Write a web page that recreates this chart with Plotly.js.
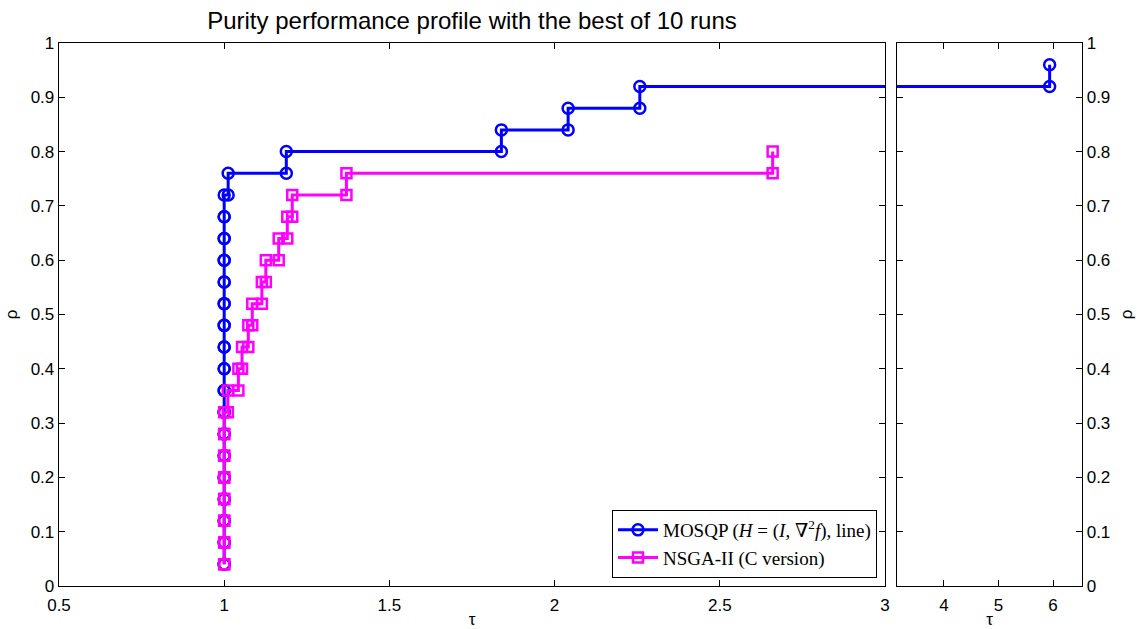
<!DOCTYPE html>
<html>
<head>
<meta charset="utf-8">
<script src="https://cdn.plot.ly/plotly-3.0.1.min.js"></script>
<style>html,body{margin:0;padding:0;background:#fff;}#chart{width:1140px;height:629px;}</style>
</head>
<body>
<div id="chart"></div>
<script>
// Number of problems (step of rho = 1/25)
const nProblems = 25;
// Sorted performance ratios tau for each solver (one per solved problem)
const mosqpTau = [1, 1, 1, 1, 1, 1, 1, 1, 1, 1, 1, 1, 1, 1, 1, 1, 1, 1,
                  1.012, 1.188, 1.839, 2.041, 2.258, 5.937];
const nsgaTau = [1, 1, 1, 1, 1, 1, 1, 1,
                 1.011, 1.043, 1.054, 1.073, 1.085, 1.114, 1.126, 1.165, 1.191, 1.206,
                 1.370, 2.660];
const seriesNames = ['MOSQP (<i>H</i> = (<i>I</i>, ∇<sup>2</sup><i>f</i>), line)', 'NSGA-II (C version)'];
const xTicksLeft = [0.5, 1, 1.5, 2, 2.5, 3];
const xTicksRight = [4, 5, 6];
const yTicks = [0, 0.1, 0.2, 0.3, 0.4, 0.5, 0.6, 0.7, 0.8, 0.9, 1];

function stairs(tau, n) {
  const xs = [tau[0]], ys = [1 / n];
  for (let i = 1; i < tau.length; i++) {
    xs.push(tau[i]); ys.push(i / n);
    xs.push(tau[i]); ys.push((i + 1) / n);
  }
  return {x: xs, y: ys};
}

const sA = stairs(mosqpTau, nProblems);
const sB = stairs(nsgaTau, nProblems);

const blue = '#0000ff', mag = '#ff00ff';
function tr(s, name, color, symbol, size, xa, ya, show) {
  return {
    x: s.x, y: s.y, name: name, type: 'scatter', mode: 'lines+markers',
    xaxis: xa, yaxis: ya, showlegend: show,
    line: {color: color, width: 3},
    marker: {symbol: symbol, size: size, color: color, line: {color: color, width: 2.5}},
    cliponaxis: true, hoverinfo: 'skip'
  };
}

const data = [
  tr(sA, seriesNames[0], blue, 'circle-open', 11, 'x', 'y', true),
  tr(sB, seriesNames[1], mag, 'square-open', 10, 'x', 'y', true),
  tr(sA, seriesNames[0], blue, 'circle-open', 11, 'x2', 'y2', false),
  tr(sB, seriesNames[1], mag, 'square-open', 10, 'x2', 'y2', false)
];

const sans = 'Liberation Sans, Arial, sans-serif';
const tickFont = {family: sans, size: 17, color: '#000'};
const titleFont = {family: sans, size: 17, color: '#000'};
const axBase = {
  showgrid: false, zeroline: false, showline: true, linecolor: '#000', linewidth: 1.3,
  mirror: 'ticks', ticks: 'inside', ticklen: 6, tickcolor: '#000', tickwidth: 1,
  tickfont: tickFont
};

const layout = {
  width: 1140, height: 629,
  margin: {l: 59, r: 58, t: 43, b: 43, pad: 0},
  paper_bgcolor: '#fff', plot_bgcolor: '#fff',
  showlegend: true,
  title: {text: 'Purity performance profile with the best of 10 runs',
          font: {family: sans, size: 24, color: '#000'},
          x: 0.4037, xref: 'paper', xanchor: 'center', y: 0.967, yref: 'container', yanchor: 'middle'},
  xaxis: Object.assign({}, axBase, {domain: [0, 0.8074], range: [0.5, 3], tickvals: xTicksLeft,
          ticktext: xTicksLeft.map(String), anchor: 'y', ticklabelstandoff: 3,
          title: {text: 'τ', font: titleFont, standoff: 1}}),
  yaxis: Object.assign({}, axBase, {domain: [0, 1], range: [0, 1], tickvals: yTicks,
          ticktext: yTicks.map(String), anchor: 'x',
          title: {text: 'ρ', font: titleFont, standoff: 8}}),
  xaxis2: Object.assign({}, axBase, {domain: [0.8192, 1], range: [3.14, 6.53], tickvals: xTicksRight,
          ticktext: xTicksRight.map(String), anchor: 'y2', ticklabelstandoff: 3,
          title: {text: 'τ', font: titleFont, standoff: 1}}),
  yaxis2: Object.assign({}, axBase, {domain: [0, 1], range: [0, 1], tickvals: yTicks,
          ticktext: yTicks.map(String), anchor: 'x2', side: 'right',
          title: {text: 'ρ', font: titleFont, standoff: 10}}),
  legend: {x: 0.7996, y: 0.0147, xanchor: 'right', yanchor: 'bottom', xref: 'paper', yref: 'paper',
           bgcolor: '#fff', bordercolor: '#000', borderwidth: 1,
           font: {family: 'Liberation Serif, DejaVu Serif, serif', size: 19, color: '#000'},
           tracegroupgap: 0, itemwidth: 40}
};

Plotly.newPlot('chart', data, layout, {displayModeBar: false, staticPlot: true});
</script>
</body>
</html>
